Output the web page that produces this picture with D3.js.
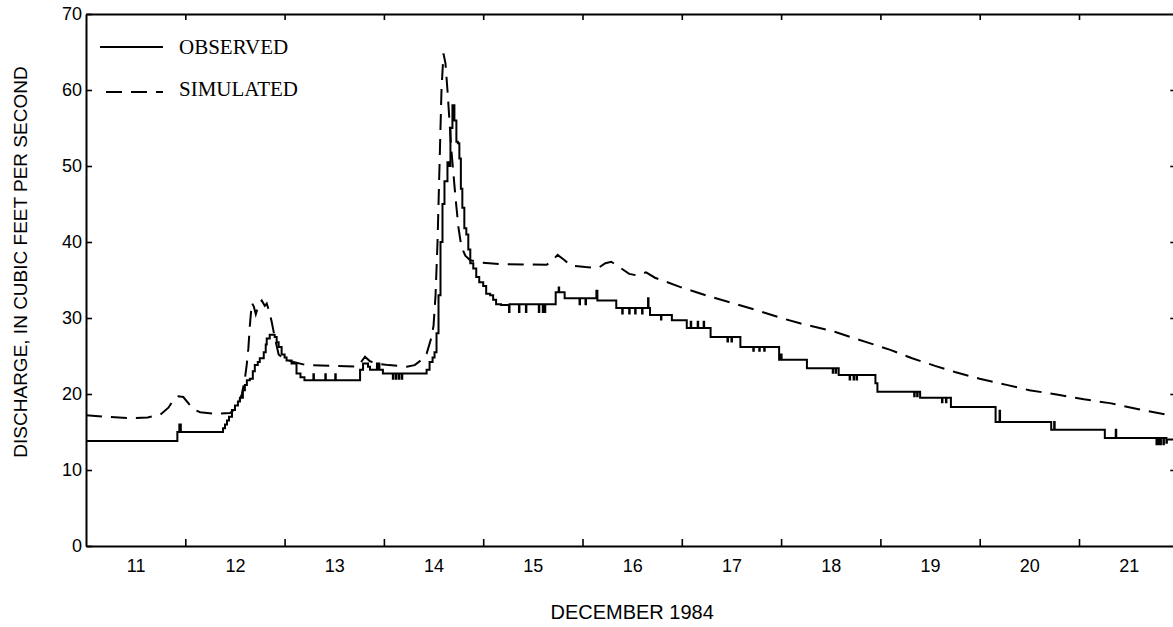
<!DOCTYPE html>
<html>
<head>
	<meta charset="UTF-8">
	<title>Observed and simulated discharge</title>
	<script src="https://d3js.org/d3.v7.min.js"></script>
	<style>
		body { margin: 0; background: #fff; }
		svg { display: block; }
	</style>
</head>
<body>
	<svg width="1173" height="627"></svg>
	<script>
		var width = 1173;
		var height = 627;

		// day boundaries (midnight) carry the tick marks, labels sit at noon
		const dayTicks = [12, 13, 14, 15, 16, 17, 18, 19, 20, 21];
		const dayLabels = [11, 12, 13, 14, 15, 16, 17, 18, 19, 20, 21];
		const yTicks = [0, 10, 20, 30, 40, 50, 60, 70];

		// observed discharge, [day of December 1984, cfs], recorder steps
		const observed = [
			[11.00, 13.8], [11.92, 15.0], [11.94, 16.0], [11.955, 15.0],
			[12.38, 15.5], [12.40, 16.0], [12.42, 16.5], [12.44, 17.0], [12.47, 17.9], [12.50, 18.5],
			[12.53, 19.0], [12.55, 19.5], [12.58, 20.5], [12.60, 21.2], [12.62, 21.8], [12.65, 22.0],
			[12.68, 23.0], [12.70, 23.8], [12.73, 24.2], [12.75, 24.7], [12.79, 25.5], [12.81, 26.5],
			[12.82, 27.3], [12.85, 27.8], [12.90, 27.5], [12.92, 26.8], [12.94, 26.2], [12.97, 25.2],
			[13.00, 24.8], [13.02, 24.4], [13.07, 24.0], [13.12, 22.7], [13.16, 22.2], [13.20, 21.8],
			[13.29, 22.6], [13.295, 21.8], [13.41, 22.6], [13.415, 21.8], [13.51, 22.6], [13.515, 21.8],
			[13.76, 23.2], [13.79, 24.0], [13.84, 23.6], [13.86, 23.2], [13.93, 24.0], [13.935, 23.2],
			[13.95, 24.0], [13.955, 23.2], [13.99, 22.7],
			[14.09, 22.0], [14.095, 22.7], [14.12, 22.0], [14.125, 22.7], [14.15, 22.0], [14.155, 22.7],
			[14.18, 22.0], [14.185, 22.7],
			[14.43, 23.2], [14.46, 24.2], [14.49, 24.8], [14.51, 25.5], [14.53, 28.0], [14.55, 33.0],
			[14.57, 40.0], [14.59, 45.0], [14.61, 48.0], [14.64, 50.5], [14.66, 50.0], [14.67, 55.0],
			[14.69, 58.0], [14.71, 56.0], [14.73, 53.2], [14.745, 53.0], [14.76, 51.0], [14.775, 47.0],
			[14.79, 44.5], [14.81, 41.8], [14.83, 41.0], [14.85, 39.0], [14.87, 37.2], [14.90, 36.5],
			[14.93, 35.4], [14.96, 34.7], [15.00, 34.2], [15.03, 33.2], [15.07, 33.0], [15.10, 32.4],
			[15.13, 31.8], [15.18, 31.7],
			[15.26, 30.8], [15.265, 31.8], [15.36, 30.8], [15.365, 31.8], [15.43, 30.8], [15.435, 31.8],
			[15.56, 30.8], [15.565, 31.8], [15.60, 30.8], [15.605, 31.8], [15.62, 30.8], [15.625, 31.8],
			[15.73, 33.4], [15.76, 34.0], [15.765, 33.4], [15.82, 32.6], [15.97, 31.8], [15.975, 32.6],
			[16.03, 31.8], [16.035, 32.6], [16.14, 33.6], [16.15, 32.3], [16.34, 31.3],
			[16.40, 30.6], [16.405, 31.3], [16.47, 30.6], [16.475, 31.3], [16.53, 30.6], [16.535, 31.3],
			[16.60, 30.6], [16.605, 31.3], [16.66, 32.6], [16.665, 31.3], [16.68, 30.4], [16.79, 29.8],
			[16.795, 30.4], [16.90, 29.7], [17.05, 28.7], [17.09, 29.5], [17.095, 28.7], [17.16, 29.5],
			[17.165, 28.7], [17.22, 29.5], [17.225, 28.7], [17.29, 27.5], [17.46, 26.9], [17.465, 27.5],
			[17.50, 26.9], [17.505, 27.5], [17.59, 26.2], [17.72, 25.7], [17.725, 26.2], [17.78, 25.7],
			[17.785, 26.2], [17.83, 25.7], [17.835, 26.2], [17.98, 24.5], [18.00, 25.2], [18.005, 24.5],
			[18.26, 23.4], [18.52, 22.8], [18.525, 23.4], [18.55, 22.8], [18.555, 23.4], [18.58, 22.5],
			[18.69, 21.9], [18.695, 22.5], [18.73, 21.9], [18.735, 22.5], [18.76, 21.9], [18.765, 22.5],
			[18.95, 21.4], [18.97, 20.3], [19.34, 19.7], [19.345, 20.3], [19.37, 19.7], [19.375, 20.3],
			[19.40, 19.5], [19.62, 18.9], [19.625, 19.5], [19.66, 18.9], [19.665, 19.5], [19.71, 18.3],
			[20.16, 16.3], [20.20, 17.8], [20.205, 16.3], [20.72, 15.3], [20.75, 16.3], [20.755, 15.3],
			[21.26, 14.2], [21.37, 15.3], [21.375, 14.2], [21.78, 13.4], [21.785, 14.2], [21.80, 13.4],
			[21.805, 14.2], [21.82, 13.4], [21.825, 14.2], [21.85, 13.4], [21.855, 14.2], [21.88, 13.6],
			[21.885, 14.0], [22.00, 14.0]
		];

		// simulated discharge, [day of December 1984, cfs]
		const simulated = [
			[11.00, 17.2], [11.20, 17.0], [11.45, 16.8], [11.62, 16.9], [11.75, 17.3], [11.83, 18.2],
			[11.88, 19.2], [11.93, 19.7], [11.98, 19.6], [12.03, 18.8], [12.08, 18.0], [12.15, 17.6],
			[12.30, 17.4], [12.45, 17.5], [12.52, 18.2], [12.57, 20.0], [12.60, 22.0], [12.62, 24.0],
			[12.635, 26.0], [12.65, 29.0], [12.67, 32.0], [12.69, 31.5], [12.71, 30.5], [12.74, 31.8],
			[12.77, 32.3], [12.80, 31.6], [12.82, 31.9], [12.85, 30.6], [12.87, 29.5], [12.90, 27.5],
			[12.94, 25.2], [12.99, 24.6], [13.09, 24.2], [13.22, 23.8], [13.50, 23.7], [13.73, 23.6],
			[13.77, 24.2], [13.81, 24.9], [13.86, 24.3], [13.93, 24.0], [14.05, 23.8], [14.23, 23.6],
			[14.31, 23.8], [14.38, 24.5], [14.43, 25.3], [14.48, 27.5], [14.50, 29.0], [14.52, 33.0],
			[14.54, 40.0], [14.56, 50.0], [14.58, 60.0], [14.60, 64.8], [14.62, 63.5], [14.64, 60.0],
			[14.68, 52.0], [14.72, 46.0], [14.75, 42.0], [14.78, 39.4], [14.82, 38.2], [14.87, 37.6],
			[14.97, 37.3], [15.17, 37.1], [15.64, 37.0], [15.69, 37.5], [15.75, 38.3], [15.82, 37.6],
			[15.88, 36.9], [16.03, 36.7], [16.16, 36.6], [16.23, 37.2], [16.29, 37.4], [16.36, 36.8],
			[16.47, 35.8], [16.55, 35.6], [16.64, 36.0], [16.73, 35.3], [16.98, 34.1], [17.24, 33.0],
			[17.50, 32.0], [17.76, 31.0], [18.00, 30.0], [18.19, 29.3], [18.54, 28.2], [18.70, 27.5],
			[18.89, 26.7], [19.10, 25.8], [19.32, 24.7], [19.55, 23.7], [19.75, 22.9], [20.00, 22.0],
			[20.27, 21.2], [20.50, 20.5], [20.79, 19.9], [21.05, 19.3], [21.31, 18.8], [21.60, 18.0],
			[21.91, 17.2], [22.00, 17.0]
		];

		const legendItems = ["OBSERVED", "SIMULATED"];

		const svg = d3.select("svg");
		const sans = "'Liberation Sans', Arial, Helvetica, sans-serif";
		const serif = "'Liberation Serif', 'Times New Roman', serif";

		const x = d3.scaleLinear().domain([11, 22]).range([86, 1178.3]);
		const y = d3.scaleLinear().domain([0, 70]).range([546, 14]);

		// frame with inward ticks
		const bottomAxis = svg.append("g")
			.attr("transform", "translate(0," + y(0) + ")")
			.call(d3.axisBottom(x).tickValues(dayTicks).tickSizeInner(-7).tickSizeOuter(0).tickFormat(""));
		const topAxis = svg.append("g")
			.attr("transform", "translate(0," + y(70) + ")")
			.call(d3.axisTop(x).tickValues(dayTicks).tickSizeInner(-6).tickSizeOuter(0).tickFormat(""));
		const leftAxis = svg.append("g")
			.attr("transform", "translate(" + x(11) + ",0)")
			.call(d3.axisLeft(y).tickValues(yTicks).tickSizeInner(-6).tickSizeOuter(0).tickPadding(4));
		const rightAxis = svg.append("g")
			.attr("transform", "translate(" + x(22) + ",0)")
			.call(d3.axisRight(y).tickValues(yTicks.slice(1, 7)).tickSizeInner(-8).tickSizeOuter(0).tickFormat(""));

		// day labels at noon
		const labelAxis = svg.append("g")
			.attr("transform", "translate(0," + y(0) + ")")
			.call(d3.axisBottom(x).tickValues(dayLabels.map(d => d + 0.5)).tickSize(0).tickPadding(13)
				.tickFormat((d, i) => dayLabels[i]));
		labelAxis.select(".domain").remove();

		[bottomAxis, topAxis, leftAxis, rightAxis].forEach(function (g) {
			g.select(".domain").attr("stroke", "#000").attr("stroke-width", 2);
			g.selectAll(".tick line").attr("stroke", "#000").attr("stroke-width", 1.6);
		});

		svg.selectAll(".tick text")
			.attr("fill", "#000")
			.style("font-family", sans)
			.style("font-size", "18px");

		// series
		const obsLine = d3.line()
			.x(d => x(d[0]))
			.y(d => y(d[1]))
			.curve(d3.curveStepAfter);
		const simLine = d3.line()
			.x(d => x(d[0]))
			.y(d => y(d[1]));

		svg.append("path")
			.datum(simulated)
			.attr("fill", "none")
			.attr("stroke", "#000")
			.attr("stroke-width", 2)
			.attr("stroke-dasharray", "16,9")
			.attr("d", simLine);

		svg.append("path")
			.datum(observed)
			.attr("fill", "none")
			.attr("stroke", "#000")
			.attr("stroke-width", 2)
			.attr("stroke-linejoin", "miter")
			.attr("d", obsLine);

		// legend
		const legend = svg.append("g");
		legend.selectAll("line")
			.data(legendItems)
			.enter()
			.append("line")
			.attr("x1", (d, i) => i == 0 ? 100 : 106)
			.attr("x2", 163)
			.attr("y1", (d, i) => 47 + i * 45)
			.attr("y2", (d, i) => 47 + i * 45)
			.attr("stroke", "#000")
			.attr("stroke-width", 2)
			.attr("stroke-dasharray", (d, i) => i == 0 ? null : "16,9");
		legend.selectAll("text")
			.data(legendItems)
			.enter()
			.append("text")
			.attr("x", 179)
			.attr("y", (d, i) => 54 + i * 42)
			.style("font-family", serif)
			.style("font-size", "21px")
			.attr("fill", "#000")
			.text(d => d);

		// axis titles
		svg.append("text")
			.attr("x", (x(11) + x(22)) / 2)
			.attr("y", 619)
			.attr("text-anchor", "middle")
			.style("font-family", sans)
			.style("font-size", "20px")
			.attr("fill", "#000")
			.text("DECEMBER 1984");

		svg.append("text")
			.attr("transform", "translate(27,262) rotate(-90)")
			.attr("text-anchor", "middle")
			.style("font-family", sans)
			.style("font-size", "19px")
			.attr("fill", "#000")
			.text("DISCHARGE, IN CUBIC FEET PER SECOND");
	</script>
</body>
</html>
